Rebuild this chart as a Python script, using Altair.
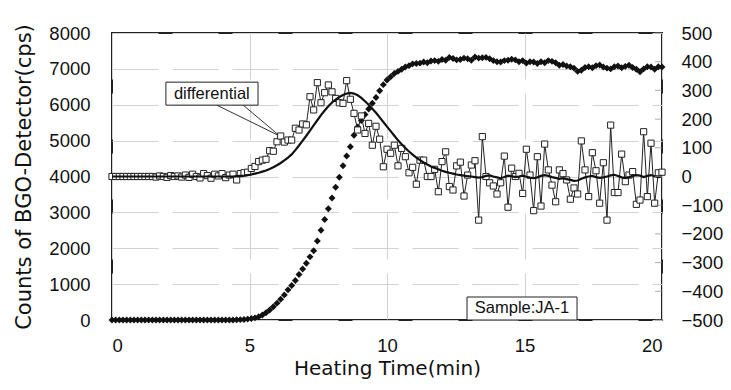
import altair as alt
import pandas as pd

# sampling grid (seconds from start of heating, every 8 s)
seconds = list(range(0, 1201, 8))

# BGO detector count rate (cps), left axis  (151 values)
counts = [
    0, 0, 0, 0, 0, 0, 0, 0, 0, 0,
    0, 0, 0, 0, 0, 0, 0, 0, 0, 0,
    0, 0, 0, 0, 0, 0, 0, 0, 0, 0,
    0, 0, 0, 0, 5, 10, 15, 25, 40, 60,
    90, 140, 200, 280, 370, 470, 580, 700, 840, 960,
    1100, 1270, 1420, 1580, 1760, 1930, 2200, 2500, 2800, 3100,
    3400, 3700, 3980, 4300, 4570, 4830, 5150, 5380, 5560, 5730,
    5880, 6040, 6200, 6390, 6560, 6690, 6780, 6870, 6930, 6990,
    7050, 7090, 7140, 7150, 7160, 7190, 7170, 7220, 7230, 7210,
    7260, 7240, 7320, 7290, 7250, 7260, 7300, 7280, 7240, 7330,
    7300, 7310, 7320, 7280, 7230, 7200, 7190, 7230, 7240, 7270,
    7250, 7200, 7230, 7160, 7200, 7190, 7150, 7200, 7170, 7230,
    7210, 7170, 7100, 7120, 7080, 7060, 7020, 6930, 6960, 7040,
    7060, 7030, 7090, 7110, 7050, 7020, 7000, 7060, 7080, 7030,
    7070, 7100, 7040, 6990, 6920, 7000, 7060, 7050, 6990, 7060,
    7050,
]

# differential (right axis), open squares
differential = [
    0, 0, 0, 0, 0, 0, 0, 0, 0, 0,
    0, 0, -2, 2, 0, -3, 3, 0, 2, -2,
    5, -3, 8, 0, -5, 10, 3, -6, 8, 2,
    10, -4, 5, 8, -12, 10, 13, 15, 28, 35,
    52, 57, 60, 90, 88, 121, 141, 120, 127, 127,
    168, 162, 183, 180, 278, 232, 327, 257, 292, 319,
    295, 272, 257, 255, 334, 269, 220, 162, 211, 150,
    185, 109, 175, 130, 34, 95, 81, 109, 37, 98,
    69, 13, 32, -27, 57, 57, 0, 0, 25, -53,
    52, 86, -35, -47, 37, 50, -68, 5, 40, 55,
    -152, 139, 0, -22, -33, -61, -22, 71, -107, 29,
    0, 11, -59, 95, 5, -119, 69, -103, 113, 23,
    -30, -88, 23, 10, -12, -79, -40, -61, 124, 23,
    -70, 83, 20, -93, 48, -152, 179, -56, -56, 78,
    -18, 5, 17, -97, -82, 156, -70, 116, -93, 13,
    15,
]

# smoothed differential (right axis), thick line
smoothed = [
    0, 0, 0, 0, 0, 0, 0, 0, 0, 0,
    0, 0, 0, 0, 0, 0, 0, 0, 0, 0,
    0, 0, 0, 0, 0, 0, 0, 0, 0, 0,
    0, 0, 0, 0, 1, 2, 3, 5, 7, 10,
    13, 17, 21, 26, 32, 39, 47, 56, 66, 77,
    92, 108, 125, 142, 160, 178, 196, 214, 230, 245,
    258, 268, 277, 284, 289, 291, 289, 283, 274, 262,
    250, 236, 222, 206, 190, 174, 158, 142, 126, 112,
    99, 87, 76, 66, 57, 49, 42, 35, 30, 25,
    20, 16, 13, 10, 7, 5, 3, 1, 0, -2,
    -4, -2, 2, 4, 0, -3, -6, -2, 3, 1,
    -2, 0, 3, -1, -4, -6, -3, 2, 5, 2,
    -2, -5, -8, -6, -9, -12, -15, -14, -8, -3,
    0, 2, -2, -5, -3, 0, 4, 6, 2, -3,
    -5, -2, 2, 5, 3, -2, 2, 5, 1, -2,
    0,
]

x_ticks = [0, 5, 10, 15, 20]
left_ticks = [0, 1000, 2000, 3000, 4000, 5000, 6000, 7000, 8000]
right_ticks = [-500, -400, -300, -200, -100, 0, 100, 200, 300, 400, 500]

# annotation boxes (in data units: minutes, left-axis counts)
box_labels = ["differential", "Sample:JA-1"]
box_x1 = [1.96, 12.91]
box_x2 = [5.31, 16.91]
box_y1 = [5989, 0]
box_y2 = [6630, 641]
label_x = [3.63, 14.91]
label_y = [6310, 330]
# callout pointer lines: from box bottom to tip
ptr_x1 = [3.81, 4.77]
ptr_y1 = [5989, 5989]
ptr_x2 = [6.11, 6.11]
ptr_y2 = [5125, 5125]

df = pd.DataFrame({
    "t": [s / 60 for s in seconds],
    "counts": counts,
    "diff": differential,
    "smooth": smoothed,
})
boxes = pd.DataFrame({"label": box_labels, "x1": box_x1, "x2": box_x2,
                      "y1": box_y1, "y2": box_y2, "lx": label_x, "ly": label_y})
ptrs = pd.DataFrame({"x1": ptr_x1, "y1": ptr_y1, "x2": ptr_x2, "y2": ptr_y2})
rt = pd.DataFrame({"v": right_ticks})

LFONT = "Liberation Sans"
TFONT = "DejaVu Sans"
GRID = "#d2d2d2"
DASH = [46, 14]

xscale = alt.Scale(domain=[0, 20], nice=False, zero=False)
xaxis = alt.Axis(title="Heating Time(min)", values=x_ticks, format="d",
                 grid=True, gridColor=GRID, gridDash=DASH, gridWidth=1,
                 ticks=False, domain=False, labelFontSize=18.5, labelPadding=16,
                 titleFontSize=20, titlePadding=4)
lscale = alt.Scale(domain=[0, 8000], nice=False)
laxis = alt.Axis(title="Counts of BGO-Detector(cps)", values=left_ticks, format="d",
                 orient="left", grid=True, gridColor=GRID, gridDash=DASH, gridWidth=1,
                 ticks=False, domain=False, labelFontSize=18.5, labelPadding=22,
                 titleFontSize=21, titlePadding=14)
rscale = alt.Scale(domain=[-500, 500], nice=False)
raxis = alt.Axis(title=None, values=right_ticks, format="d", orient="right",
                 grid=False, ticks=False, domain=False, labelFontSize=18.5,
                 labelPadding=19, labelAlign="left")

X = alt.X("t:Q", scale=xscale, axis=xaxis)
YL = alt.Y("counts:Q", scale=lscale, axis=laxis)

diamonds = alt.Chart(df).mark_point(shape="diamond", filled=True, color="#111",
                                     size=48, opacity=1).encode(x=X, y=YL)

pointer = alt.Chart(ptrs).mark_rule(color="#333", strokeWidth=1).encode(
    x=alt.X("x1:Q", scale=xscale, axis=xaxis),
    y=alt.Y("y1:Q", scale=lscale, axis=laxis),
    x2="x2:Q", y2="y2:Q")

rects = alt.Chart(boxes).mark_rect(fill="white", stroke="#222", strokeWidth=1).encode(
    x=alt.X("x1:Q", scale=xscale, axis=xaxis),
    x2="x2:Q",
    y=alt.Y("y1:Q", scale=lscale, axis=laxis),
    y2="y2:Q")

texts = alt.Chart(boxes).mark_text(font=LFONT, fontSize=16.5, color="#111",
                                    align="center", baseline="middle").encode(
    x=alt.X("lx:Q", scale=xscale, axis=xaxis),
    y=alt.Y("ly:Q", scale=lscale, axis=laxis),
    text="label:N")

left = alt.layer(diamonds, pointer, rects, texts)

YR = alt.Y("diff:Q", scale=rscale, axis=raxis)
sq_line = alt.Chart(df).mark_line(color="#222", strokeWidth=1).encode(x=X, y=YR)
sq_pts = alt.Chart(df).mark_point(shape="square", filled=True, fill="white",
                                   stroke="#222", strokeWidth=1, size=38,
                                   opacity=1).encode(x=X, y=YR)
smooth = alt.Chart(df).mark_line(color="#111", strokeWidth=2.2).encode(
    x=X, y=alt.Y("smooth:Q", scale=rscale, axis=raxis))
rticks = alt.Chart(rt).mark_tick(orient="horizontal", size=7, thickness=1,
                                  color="#888", xOffset=-3.5).encode(
    x=alt.datum(20, scale=xscale),
    y=alt.Y("v:Q", scale=rscale, axis=raxis))

right = alt.layer(sq_line, sq_pts, smooth, rticks)

chart = alt.layer(left, right).resolve_scale(y="independent").properties(
    width=550, height=287,
    padding={"left": 104, "top": 25, "right": 61, "bottom": 62},
    autosize=alt.AutoSizeParams(type="none"),
).configure_view(stroke="#222", strokeWidth=2).configure_axis(
    labelFont=LFONT, titleFont=TFONT, labelColor="#111", titleColor="#111",
    titleFontWeight="normal")

chart.save("out.html", embed_options={"renderer": "svg", "actions": False})
